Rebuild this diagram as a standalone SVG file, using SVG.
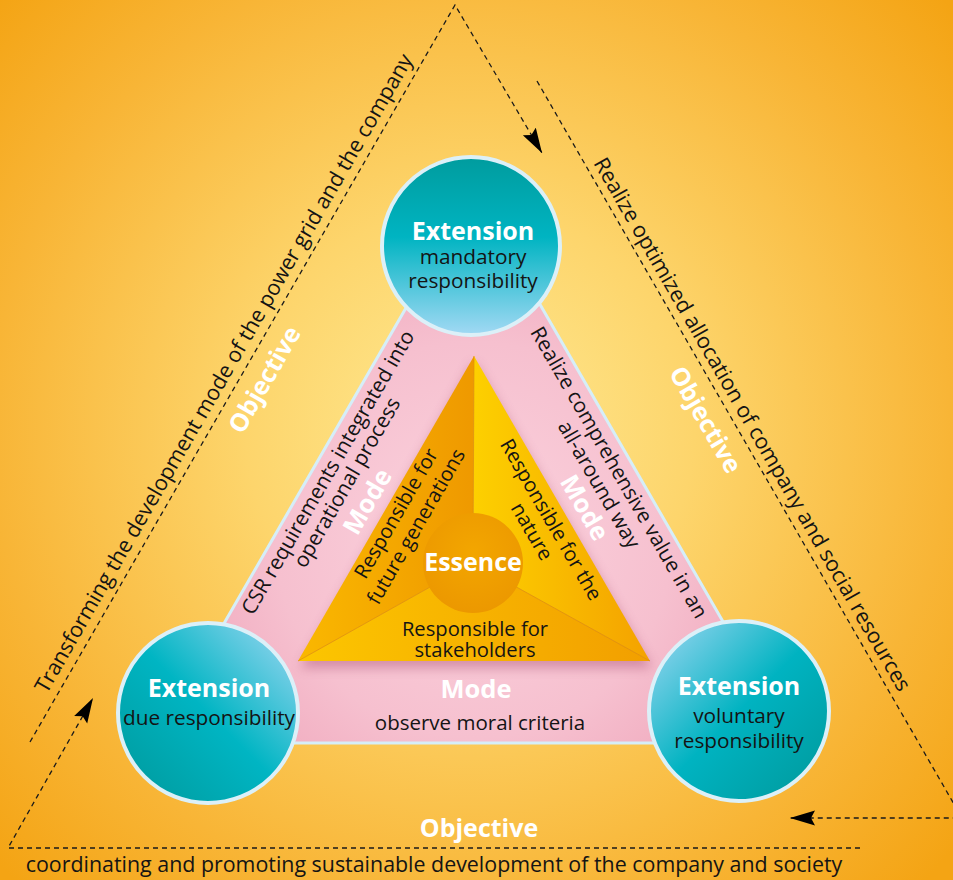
<svg xmlns="http://www.w3.org/2000/svg" width="953" height="880" viewBox="0 0 953 880">
<defs>
<style>
.t{font-family:"Open Sans","Liberation Sans",sans-serif;fill:#141414;text-anchor:middle}
.b{font-family:"Open Sans","Liberation Sans",sans-serif;font-weight:700;fill:#ffffff;text-anchor:middle}
.dash{fill:none;stroke:#1a1a1a;stroke-width:1.3;stroke-dasharray:5 4}
.circ{stroke:#dcf0f8;stroke-width:4}
</style>
<radialGradient id="bg" gradientUnits="userSpaceOnUse" cx="470" cy="430" r="640">
<stop offset="0" stop-color="#fee992"/>
<stop offset="0.35" stop-color="#fdd56c"/>
<stop offset="0.75" stop-color="#f8b536"/>
<stop offset="1" stop-color="#f4a414"/>
</radialGradient>
<radialGradient id="pink" gradientUnits="userSpaceOnUse" cx="474" cy="540" r="330">
<stop offset="0" stop-color="#fbd3de"/>
<stop offset="0.6" stop-color="#f6c0cf"/>
<stop offset="1" stop-color="#efa5ba"/>
</radialGradient>
<linearGradient id="gTop" x1="0" y1="0" x2="0" y2="1">
<stop offset="0" stop-color="#009c9e"/>
<stop offset="0.45" stop-color="#00b4c2"/>
<stop offset="1" stop-color="#a2d9f4"/>
</linearGradient>
<linearGradient id="gLeft" x1="0" y1="1" x2="1" y2="0">
<stop offset="0" stop-color="#00989a"/>
<stop offset="0.5" stop-color="#00b5c3"/>
<stop offset="1" stop-color="#a4d8f4"/>
</linearGradient>
<linearGradient id="gRight" x1="0" y1="0" x2="1" y2="1">
<stop offset="0" stop-color="#a4d8f4"/>
<stop offset="0.5" stop-color="#00b3c1"/>
<stop offset="1" stop-color="#00989a"/>
</linearGradient>
<linearGradient id="oLeft" gradientUnits="userSpaceOnUse" x1="298" y1="0" x2="474" y2="0">
<stop offset="0" stop-color="#fab800"/>
<stop offset="1" stop-color="#ef9900"/>
</linearGradient>
<linearGradient id="oRight" gradientUnits="userSpaceOnUse" x1="474" y1="0" x2="650" y2="0">
<stop offset="0" stop-color="#fdd000"/>
<stop offset="1" stop-color="#f4a200"/>
</linearGradient>
<linearGradient id="oBot" gradientUnits="userSpaceOnUse" x1="298" y1="0" x2="650" y2="0">
<stop offset="0" stop-color="#fcc600"/>
<stop offset="1" stop-color="#f29f00"/>
</linearGradient>
<radialGradient id="ess" cx="0.5" cy="0.4" r="0.6">
<stop offset="0" stop-color="#f3a600"/>
<stop offset="1" stop-color="#ec9800"/>
</radialGradient>
<filter id="shadow" x="-20%" y="-20%" width="140%" height="140%">
<feGaussianBlur stdDeviation="6"/>
</filter>
<marker id="arr" markerUnits="userSpaceOnUse" markerWidth="26" markerHeight="16" refX="25" refY="7.5" orient="auto">
<path d="M0,0 L25,7.5 L0,15 L4,7.5 Z" fill="#000"/>
</marker>
</defs>

<rect id="background" x="0" y="0" width="953" height="880" fill="url(#bg)"/>

<g id="connectors">
<path class="dash" d="M30,742 L455,5 L542,153" marker-end="url(#arr)"/>
<path class="dash" d="M537,81 L962,818 L790,818" marker-end="url(#arr)"/>
<path class="dash" d="M860,848 L8,848 L93,698" marker-end="url(#arr)"/>
</g>

<g id="mode-band">
<polygon points="474,190 155,743 793,743" fill="url(#pink)" stroke="#d6eef8" stroke-width="3"/>
<polygon points="474,362 300,668 652,668" fill="#a84c70" opacity="0.45" filter="url(#shadow)"/>
</g>

<g id="essence-triangle">
<polygon points="474,356 298,661 473,563" fill="url(#oLeft)"/>
<polygon points="474,356 473,563 650,661" fill="url(#oRight)"/>
<polygon points="298,661 473,563 650,661" fill="url(#oBot)"/>
<g stroke="#e08e00" stroke-width="0.7" fill="none">
<line x1="474" y1="356" x2="473" y2="563"/>
<line x1="298" y1="661" x2="473" y2="563"/>
<line x1="650" y1="661" x2="473" y2="563"/>
</g>
</g>

<g id="essence">
<circle cx="473" cy="563" r="50" fill="url(#ess)"/>
<text class="b" x="473" y="571" font-size="25">Essence</text>
</g>

<g id="extension-top">
<circle class="circ" cx="471" cy="246" r="89" fill="url(#gTop)"/>
<text class="b" x="473" y="240" font-size="25">Extension</text>
<text class="t" x="473" y="264" font-size="20.8">mandatory</text>
<text class="t" x="473" y="288" font-size="20.8">responsibility</text>
</g>

<g id="extension-left">
<circle class="circ" cx="208" cy="713" r="90" fill="url(#gLeft)"/>
<text class="b" x="209" y="697" font-size="25">Extension</text>
<text class="t" x="209" y="725" font-size="20.8">due responsibility</text>
</g>

<g id="extension-right">
<circle class="circ" cx="739" cy="711" r="90" fill="url(#gRight)"/>
<text class="b" x="739" y="695" font-size="25">Extension</text>
<text class="t" x="739" y="723" font-size="20.8">voluntary</text>
<text class="t" x="739" y="748" font-size="20.8">responsibility</text>
</g>

<g id="label-left-mode">
<text class="t" font-size="20.8" transform="translate(334,476) rotate(-60)">CSR requirements integrated into</text>
<text class="t" font-size="20.8" transform="translate(353,486) rotate(-60)">operational process</text>
<text class="b" font-size="25.5" transform="translate(375,506) rotate(-60)">Mode</text>
</g>

<g id="label-right-mode">
<text class="t" font-size="20.8" transform="translate(613,476) rotate(60)">Realize comprehensive value in an</text>
<text class="t" font-size="20.8" transform="translate(593,488) rotate(60)">all-around way</text>
<text class="b" font-size="25.5" transform="translate(577,512) rotate(60)">Mode</text>
</g>

<g id="label-bottom-mode">
<text class="b" x="476" y="698" font-size="25.5">Mode</text>
<text class="t" x="480" y="730" font-size="20.5">observe moral criteria</text>
</g>

<g id="label-inner">
<text class="t" font-size="20.2" transform="translate(402,517) rotate(-60)">Responsible for</text>
<text class="t" font-size="20.2" transform="translate(422,530) rotate(-60)">future generations</text>
<text class="t" font-size="20.2" transform="translate(545,523) rotate(60)">Responsible for the</text>
<text class="t" font-size="20.2" transform="translate(526,535) rotate(60)">nature</text>
<text class="t" x="475" y="636" font-size="20.2">Responsible for</text>
<text class="t" x="475" y="657" font-size="20.2">stakeholders</text>
</g>

<g id="label-objectives">
<text class="t" font-size="21.5" transform="translate(230,377) rotate(-60)">Transforming the development mode of the power grid and the company</text>
<text class="b" font-size="25" transform="translate(272,384) rotate(-60)">Objective</text>
<text class="t" font-size="21.5" transform="translate(746,428) rotate(60)">Realize optimized allocation of company and social resources</text>
<text class="b" font-size="25" transform="translate(698,424) rotate(60)">Objective</text>
<text class="b" x="479" y="837" font-size="25">Objective</text>
<text class="t" x="434" y="872" font-size="21.4">coordinating and promoting sustainable development of the company and society</text>
</g>
</svg>
